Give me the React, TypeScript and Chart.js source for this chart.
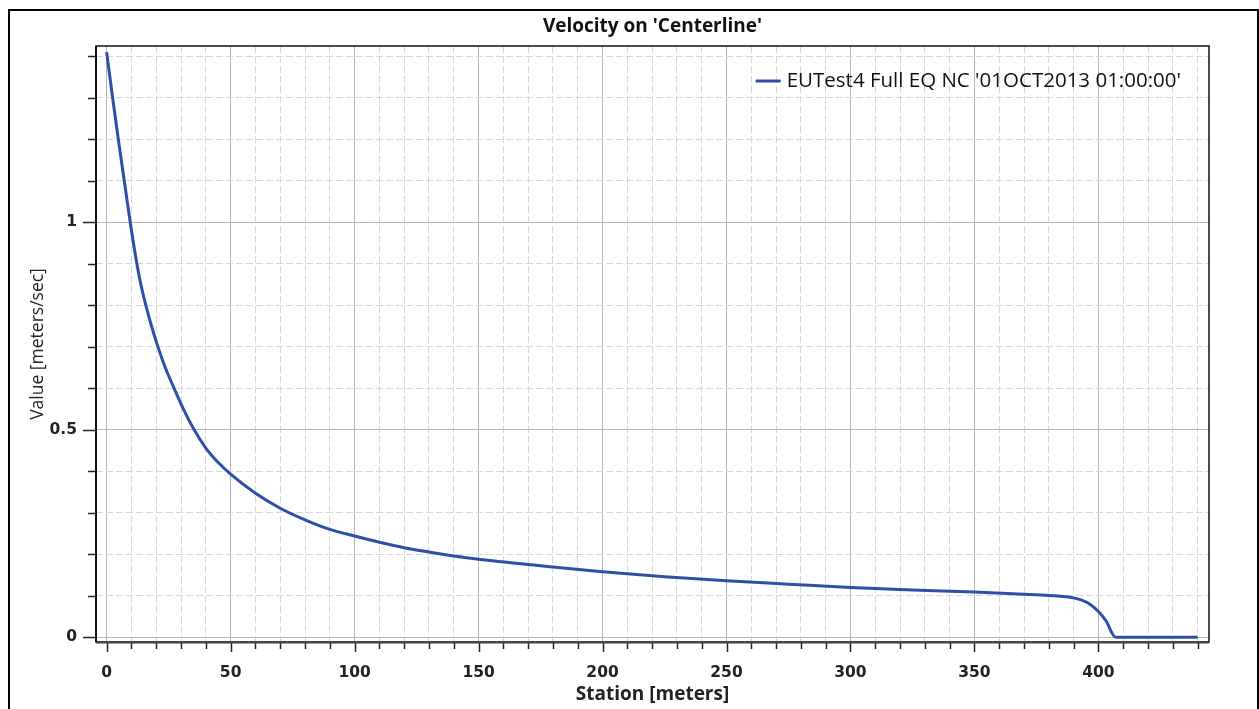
import React, { useEffect, useRef } from "react";
import { Chart, registerables } from "chart.js";

Chart.register(...registerables);

const titleText = "Velocity on 'Centerline'";
const seriesLabel = "EUTest4 Full EQ NC '01OCT2013 01:00:00'";
const xAxisTitle = "Station [meters]";
const yAxisTitle = "Value [meters/sec]";

const stations = [
  0, 2.4, 4.7, 7.1, 9.5, 11.9, 13.8, 15.8, 18, 20.3, 23.5, 27, 30, 35.3, 40, 45, 50, 60,
  70, 80, 90, 100, 110, 120, 130, 140, 150, 175, 200, 225, 250, 275, 300, 325, 350, 370,
  380, 388, 393, 397, 400, 403, 407, 420, 440,
];
const velocities = [
  1.41, 1.3, 1.2, 1.1, 1.0, 0.91, 0.85, 0.8, 0.752, 0.707, 0.652, 0.603, 0.562, 0.5, 0.456,
  0.421, 0.393, 0.347, 0.311, 0.283, 0.26, 0.244, 0.229, 0.216, 0.2055, 0.196, 0.188,
  0.1725, 0.158, 0.146, 0.136, 0.128, 0.12, 0.114, 0.109, 0.104, 0.101, 0.097, 0.09, 0.078,
  0.062, 0.04, 0.0, 0.0, 0.0,
];

const xMin = -4.3;
const xMax = 444.6;
const xStep = 10;
const xMajor = 50;
const xTickMax = 440;
const yMin = -0.0113;
const yMax = 1.4248;
const yStep = 0.1;
const yMajor = 0.5;
const yTickMax = 1.4;

const lineColor = "#2f4fa6";
const majorGrid = "#b5b5b5";
const minorGrid = "#d8d8d8";

const isMult = (v: number, m: number) => Math.abs(v / m - Math.round(v / m)) < 1e-6;

export default function App() {
  const ref = useRef<HTMLCanvasElement | null>(null);

  useEffect(() => {
    if (!ref.current) return;
    const data = stations.map((s, i) => ({ x: s, y: velocities[i] }));

    const framePlugin = {
      id: "frameAndTicks",
      afterDraw(chart: any) {
        const { ctx, chartArea } = chart;
        const xs = chart.scales.x;
        const ys = chart.scales.y;
        ctx.save();
        // tick marks
        ctx.strokeStyle = "#222";
        ctx.lineWidth = 1.5;
        for (let v = 0; v <= xTickMax + 1e-9; v += xStep) {
          const px = Math.round(xs.getPixelForValue(v)) + 0.5;
          const len = isMult(v, xMajor) ? 10 : 7;
          ctx.beginPath();
          ctx.moveTo(px, chartArea.bottom);
          ctx.lineTo(px, chartArea.bottom + len);
          ctx.stroke();
        }
        for (let i = 0; i * yStep <= yTickMax + 1e-9; i++) {
          const v = i * yStep;
          const py = Math.round(ys.getPixelForValue(v)) + 0.5;
          const len = isMult(v, yMajor) ? 13 : 8;
          ctx.beginPath();
          ctx.moveTo(chartArea.left - len, py);
          ctx.lineTo(chartArea.left, py);
          ctx.stroke();
        }
        // frame
        ctx.strokeStyle = "#111";
        ctx.lineWidth = 1.5;
        ctx.strokeRect(chartArea.left, chartArea.top, chartArea.right - chartArea.left, chartArea.bottom - chartArea.top);
        ctx.lineWidth = 2;
        ctx.beginPath();
        ctx.moveTo(chartArea.left, chartArea.top);
        ctx.lineTo(chartArea.left, chartArea.bottom);
        ctx.stroke();
        ctx.strokeStyle = "#444";
        ctx.beginPath();
        ctx.moveTo(chartArea.left, chartArea.bottom + 0.5);
        ctx.lineTo(chartArea.right, chartArea.bottom + 0.5);
        ctx.stroke();
        // legend
        ctx.font = "20.5px 'Open Sans'";
        ctx.fillStyle = "#111";
        ctx.textAlign = "right";
        ctx.textBaseline = "middle";
        const textRight = chartArea.right - 28;
        const ly = chartArea.top + 35;
        ctx.fillText(seriesLabel, textRight, ly);
        const w = ctx.measureText(seriesLabel).width;
        const textLeft = textRight - w;
        ctx.strokeStyle = lineColor;
        ctx.lineWidth = 3;
        ctx.beginPath();
        ctx.moveTo(textLeft - 31, ly);
        ctx.lineTo(textLeft - 6, ly);
        ctx.stroke();
        ctx.restore();
      },
    };

    const chart = new Chart(ref.current, {
      type: "line",
      data: {
        datasets: [
          {
            label: seriesLabel,
            data,
            borderColor: lineColor,
            borderWidth: 3,
            pointRadius: 0,
            fill: false,
            cubicInterpolationMode: "monotone",
          },
        ],
      },
      options: {
        animation: false,
        responsive: false,
        events: [],
        layout: { padding: { left: 0, right: 50, top: 0, bottom: 0 } },
        plugins: {
          legend: { display: false },
          tooltip: { enabled: false },
          title: {
            display: true,
            text: titleText,
            fullSize: false,
            color: "#111",
            font: { family: "'Open Sans'", size: 19, weight: "bold", lineHeight: 1.2 },
            padding: { top: 15.6, bottom: 7.6 },
          },
        },
        scales: {
          x: {
            type: "linear",
            min: xMin,
            max: xMax,
            afterFit: (s: any) => {
              s.height = 67;
            },
            ticks: {
              stepSize: xStep,
              includeBounds: false,
              autoSkip: false,
              maxRotation: 0,
              padding: 22,
              color: "#222",
              font: { family: "'DejaVu Sans'", size: 15.5, weight: "bold" },
              callback: (v: any) => (isMult(Number(v), xMajor) ? String(Math.round(Number(v))) : ""),
            },
            grid: {
              drawTicks: false,
              lineWidth: 1,
              color: (c: any) => (c.tick && isMult(c.tick.value, xMajor) ? majorGrid : minorGrid),
            },
            border: {
              display: false,
              dash: (c: any) => (c.tick && !isMult(c.tick.value, xMajor) ? [7, 3] : []),
            },
            title: {
              display: true,
              text: xAxisTitle,
              color: "#222",
              font: { family: "'Open Sans'", size: 19, weight: "bold", lineHeight: 1.2 },
              padding: { top: 0, bottom: 2.6 },
            },
          },
          y: {
            type: "linear",
            min: yMin,
            max: yMax,
            afterFit: (s: any) => {
              s.width = 96;
            },
            ticks: {
              stepSize: yStep,
              includeBounds: false,
              autoSkip: false,
              padding: 19,
              color: "#222",
              font: { family: "'DejaVu Sans'", size: 15.5, weight: "bold" },
              callback: (v: any) => {
                const n = Number(v);
                if (!isMult(n, yMajor)) return "";
                const r = Math.round(n * 10) / 10;
                return String(r);
              },
            },
            grid: {
              drawTicks: false,
              lineWidth: 1,
              color: (c: any) => (c.tick && isMult(c.tick.value, yMajor) ? majorGrid : minorGrid),
            },
            border: {
              display: false,
              dash: (c: any) => (c.tick && !isMult(c.tick.value, yMajor) ? [7, 3] : []),
            },
            title: {
              display: true,
              text: yAxisTitle,
              color: "#222",
              font: { family: "'Open Sans'", size: 17.5, weight: "normal", lineHeight: 1.2 },
              padding: { top: 27.5, bottom: 0 },
            },
          },
        },
      },
      plugins: [framePlugin],
    } as any);

    return () => chart.destroy();
  }, []);

  return (
    <>
      <canvas
        ref={ref}
        width={1259}
        height={709}
        style={{ position: "fixed", left: 0, top: 0, width: 1259, height: 709 }}
      />
      <div
        style={{
          position: "fixed",
          left: 8,
          top: 9,
          width: 1251,
          height: 760,
          boxSizing: "border-box",
          border: "2px solid #000",
          pointerEvents: "none",
        }}
      />
    </>
  );
}
